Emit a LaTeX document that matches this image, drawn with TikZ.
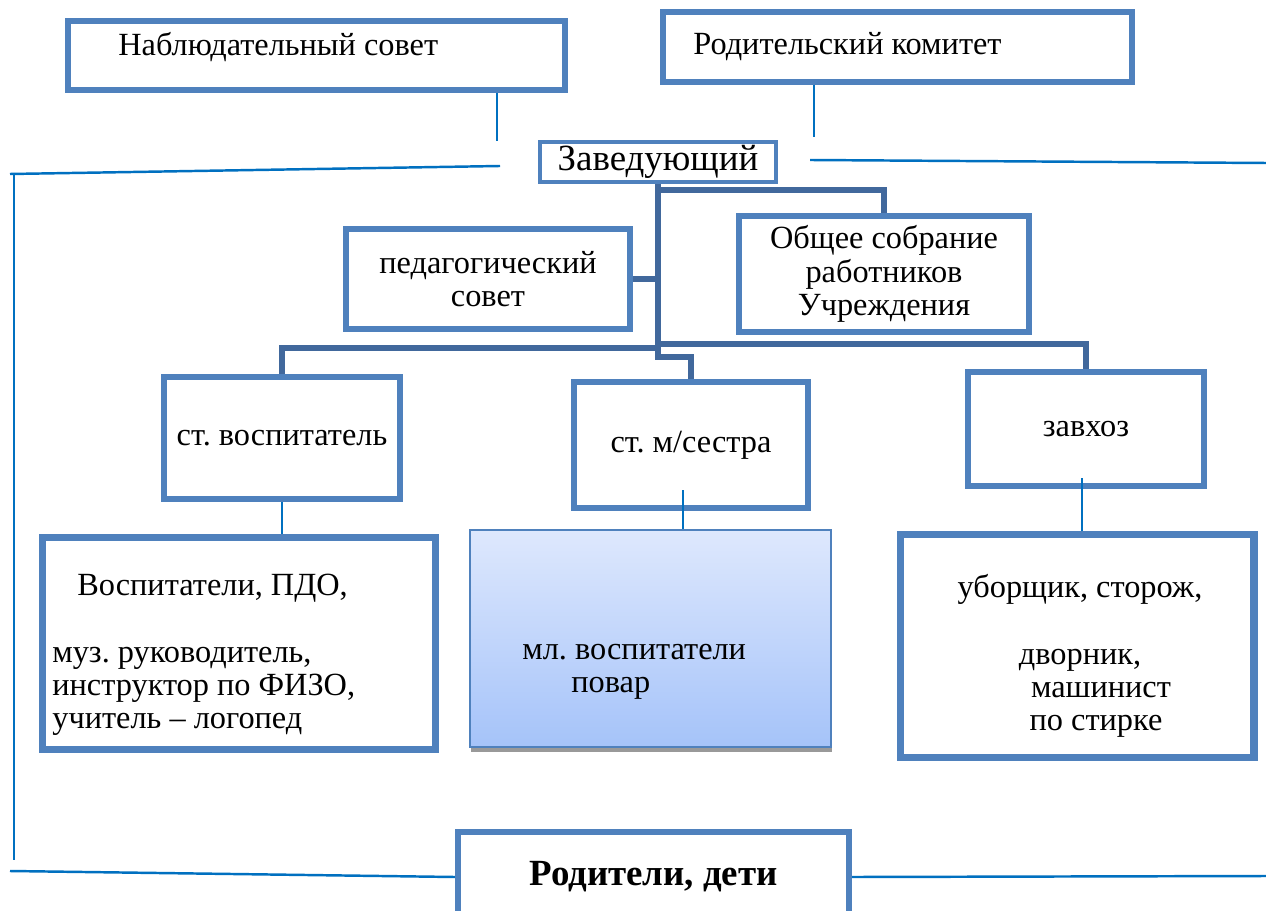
\documentclass[tikz,border=0pt]{standalone}
\usepackage{fontspec}
\setmainfont{Liberation Serif}
\frenchspacing
\usetikzlibrary{positioning,backgrounds,shadows}
\definecolor{boxblue}{HTML}{4F81BD}
\definecolor{trunkblue}{HTML}{41689C}
\definecolor{wireblue}{HTML}{0070C0}
\definecolor{shadeTop}{HTML}{DEE8FD}
\definecolor{shadeBot}{HTML}{A5C3F9}
\tikzset{
  unit/.style={rectangle, draw=boxblue, line width=3.4pt, fill=white, inner sep=0pt,
    align=center, font=\fontsize{18.4}{19}\selectfont},
  bigunit/.style={unit, line width=4pt},
  caption/.style={inner sep=0pt, font=\fontsize{18.4}{19}\selectfont},
  trunk/.style={draw=trunkblue, line width=3.4pt},
  wire/.style={draw=wireblue, line width=1.4pt}
}

\begin{document}
\begin{tikzpicture}[x=0.02cm, y=-0.02cm]
  \useasboundingbox (0,0) rectangle (1266,911);

  % governing bodies
  \node[unit, minimum width=9.94cm, minimum height=1.38cm] (nabl) at (316.5,55.5) {};
  \node[caption, anchor=west] (nabltext) at (118,47) {Наблюдательный совет};
  \node[unit, minimum width=9.38cm, minimum height=1.4cm] (rodk) at (897.5,47) {};
  \node[caption, anchor=west] (rodktext) at (693,47) {Родительский комитет};

  \node[unit, line width=2.6pt, minimum width=4.72cm, minimum height=0.8cm,
    font=\fontsize{21}{22}\selectfont] (zav) at (658,162) {Заведующий};

  \node[unit, minimum width=5.68cm, minimum height=2cm] (ped) at (488,279)
    {педагогический\\совет};
  \node[unit, minimum width=5.8cm, minimum height=2.32cm] (obsh) at (884,274)
    {Общее собрание\\работников\\Учреждения};

  % heads
  \node[unit, minimum width=4.72cm, minimum height=2.44cm] (stv) at (282,438) {ст. воспитатель};
  \node[unit, minimum width=4.68cm, minimum height=2.52cm] (msr) at (691,445) {ст. м/сестра};
  \node[unit, minimum width=4.72cm, minimum height=2.28cm] (zavh) at (1086,429) {завхоз};

  % staff
  \node[bigunit, minimum width=7.88cm, minimum height=4.26cm] (vosp) at (239,643.5) {};
  \node[caption, anchor=west, align=left] (vosptext) at (52,655)
    {\hspace*{0.5cm}Воспитатели, ПДО,\\[19pt]муз. руководитель,\\инструктор по ФИЗО,\\учитель – логопед};

  \node[rectangle, draw=boxblue, line width=1pt, top color=shadeTop, bottom color=shadeBot,
    drop shadow={shadow xshift=0.3pt, shadow yshift=-2.6pt, fill=black!40, opacity=1},
    minimum width=7.22cm, minimum height=4.34cm] (mlv) at (650.5,638.5) {};
  \node[caption, anchor=west, align=left] (mlvtext) at (522,672)
    {мл. воспитатели\\\hspace*{0.98cm}повар};

  \node[bigunit, minimum width=7.08cm, minimum height=4.48cm] (ubor) at (1077,646) {};
  \node[caption, align=center] (ubortext) at (1080,656)
    {уборщик, сторож,\\[19pt]дворник,\\\hspace*{0.84cm}машинист\\\hspace*{0.64cm}по стирке};

  \node[unit, minimum width=7.82cm, minimum height=1.8cm,
    font=\fontsize{21}{22}\selectfont\bfseries] (rod) at (653.5,877) {Родители, дети};

  % free ends of the thin lines
  \coordinate (nablend) at (497,141);
  \coordinate (rodkend) at (814,137);
  \coordinate (lefttop) at (500,166);
  \coordinate (leftcorner) at (10,174);
  \coordinate (leftdrop) at (14,173);
  \coordinate (leftlow) at (14,860);
  \coordinate (botleft) at (10,871);
  \coordinate (zavright) at (810,160);
  \coordinate (righttop) at (1266,163);
  \coordinate (botright) at (1266,876);
  \coordinate (msrin) at (683,490);
  \coordinate (zavhin) at (1082,478);

  % joints of the tree
  \coordinate (obshjoin) at (658,190);
  \coordinate (rightjoin) at (658,344);
  \coordinate (leftjoin) at (658,348);
  \coordinate (hub) at (658,357);

  \begin{pgfonlayer}{background}
    \fill[white] (0,0) rectangle (1266,911);
    \draw[trunk] (zav.south) -- (hub) -| (msr.north);
    \draw[trunk] (obshjoin) -| (obsh.north);
    \draw[trunk] (ped.east) -- (ped.east -| zav.south);
    \draw[trunk] (leftjoin) -| (stv.north);
    \draw[trunk] (rightjoin) -| (zavh.north);
    \draw[wire] (botleft) -- (rod.west);
    \draw[wire] (rod.east) -- (botright);
  \end{pgfonlayer}

  \draw[wire] (nablend |- nabl.south) -- (nablend);
  \draw[wire] (rodkend |- rodk.south) -- (rodkend);
  \draw[wire] (lefttop) -- (leftcorner);
  \draw[wire] (leftdrop) -- (leftlow);
  \draw[wire] (zavright) -- (righttop);
  \draw[wire] (stv.south) -- (stv.south |- vosp.north);
  \draw[wire] (msrin) -- (msrin |- mlv.north);
  \draw[wire] (zavhin) -- (zavhin |- ubor.north);
\end{tikzpicture}
\end{document}
